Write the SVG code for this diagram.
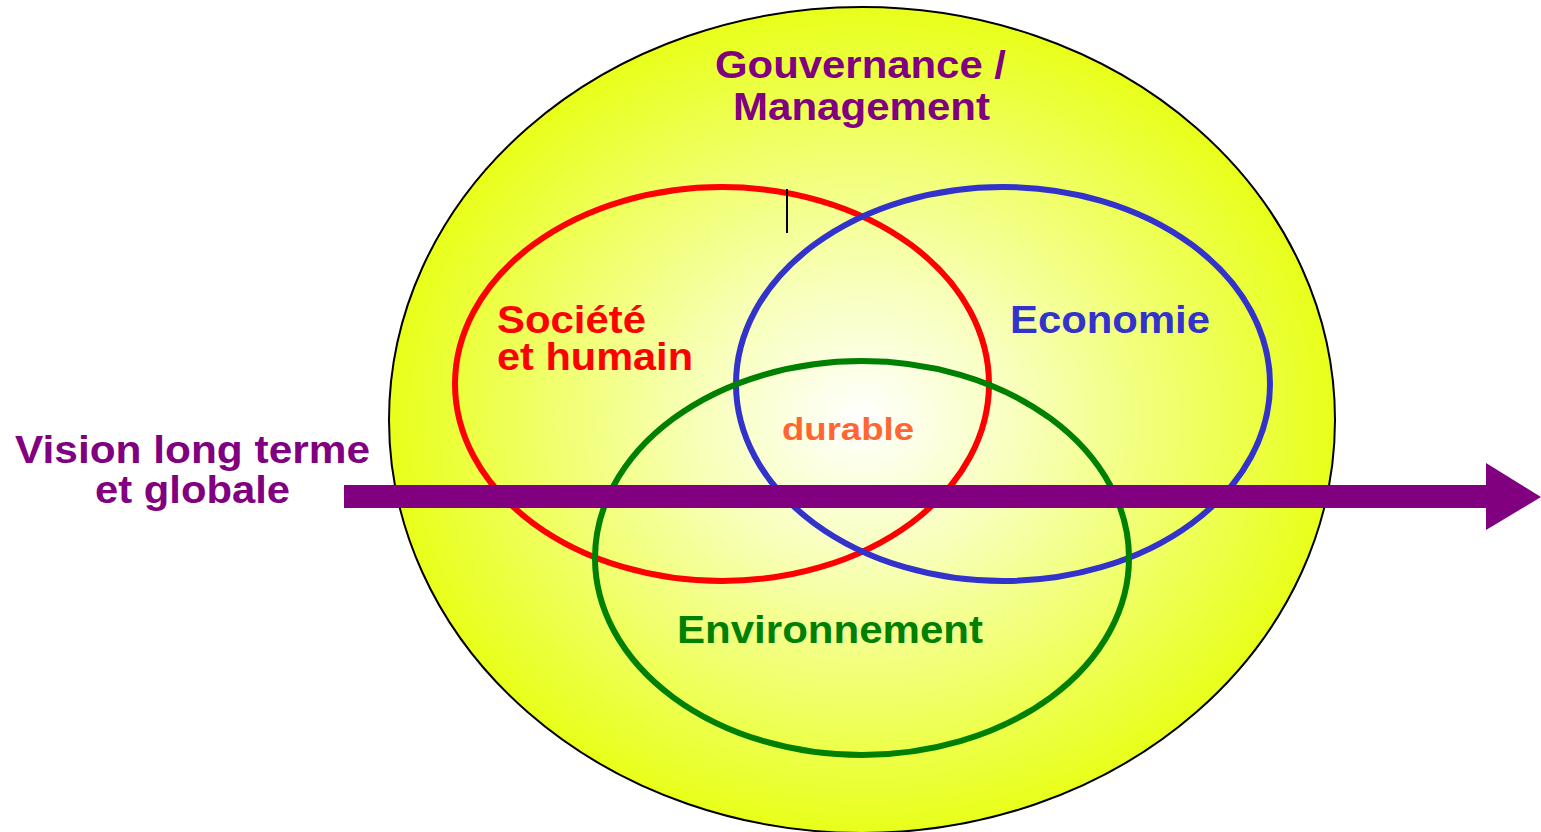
<svg xmlns="http://www.w3.org/2000/svg" width="1541" height="832" viewBox="0 0 1541 832">
<defs>
<radialGradient id="bg" cx="0.5" cy="0.5" r="0.5">
<stop offset="0" stop-color="#FFFFFF"/>
<stop offset="0.35" stop-color="#F8FFB8"/>
<stop offset="1" stop-color="#E8FF1A"/>
</radialGradient>
<style>
text{font-family:"Liberation Sans",Arial,sans-serif;font-weight:bold}
.ring{fill:none;stroke-width:6}
</style>
</defs>
<rect width="1541" height="832" fill="#FFFFFF"/>
<g id="gouvernance">
<ellipse cx="862" cy="420" rx="473" ry="413" fill="url(#bg)" stroke="#000" stroke-width="2"/>
<text x="715" y="78" font-size="38" fill="#800080" textLength="291" lengthAdjust="spacingAndGlyphs">Gouvernance /</text>
<text x="733" y="120" font-size="38" fill="#800080" textLength="257" lengthAdjust="spacingAndGlyphs">Management</text>
</g>
<g id="societe">
<ellipse class="ring" cx="722" cy="384" rx="267" ry="197" stroke="#FF0000"/>
<text x="497" y="333" font-size="38" fill="#FF0000" textLength="149" lengthAdjust="spacingAndGlyphs">Société</text>
<text x="497" y="370" font-size="38" fill="#FF0000" textLength="196" lengthAdjust="spacingAndGlyphs">et humain</text>
</g>
<g id="economie">
<ellipse class="ring" cx="1003" cy="384" rx="267" ry="197" stroke="#3333CC"/>
<text x="1010" y="333" font-size="39" fill="#3333CC" textLength="200" lengthAdjust="spacingAndGlyphs">Economie</text>
</g>
<g id="environnement">
<ellipse class="ring" cx="862" cy="558" rx="267" ry="197" stroke="#008000"/>
<text x="677" y="643" font-size="39" fill="#008000" textLength="306" lengthAdjust="spacingAndGlyphs">Environnement</text>
</g>
<g id="durable">
<text x="782" y="440" font-size="31" fill="#FF6633" textLength="132" lengthAdjust="spacingAndGlyphs">durable</text>
</g>
<g id="marker">
<line x1="787" y1="189" x2="787" y2="233" stroke="#000" stroke-width="2"/>
</g>
<g id="connectors">
<path d="M344 485 H1486 V463 L1541 497 L1486 530 V508 H344 Z" fill="#800080"/>
</g>
<g id="vision">
<text x="15" y="463" font-size="39" fill="#800080" textLength="355" lengthAdjust="spacingAndGlyphs">Vision long terme</text>
<text x="95" y="503" font-size="39" fill="#800080" textLength="195" lengthAdjust="spacingAndGlyphs">et globale</text>
</g>
</svg>
